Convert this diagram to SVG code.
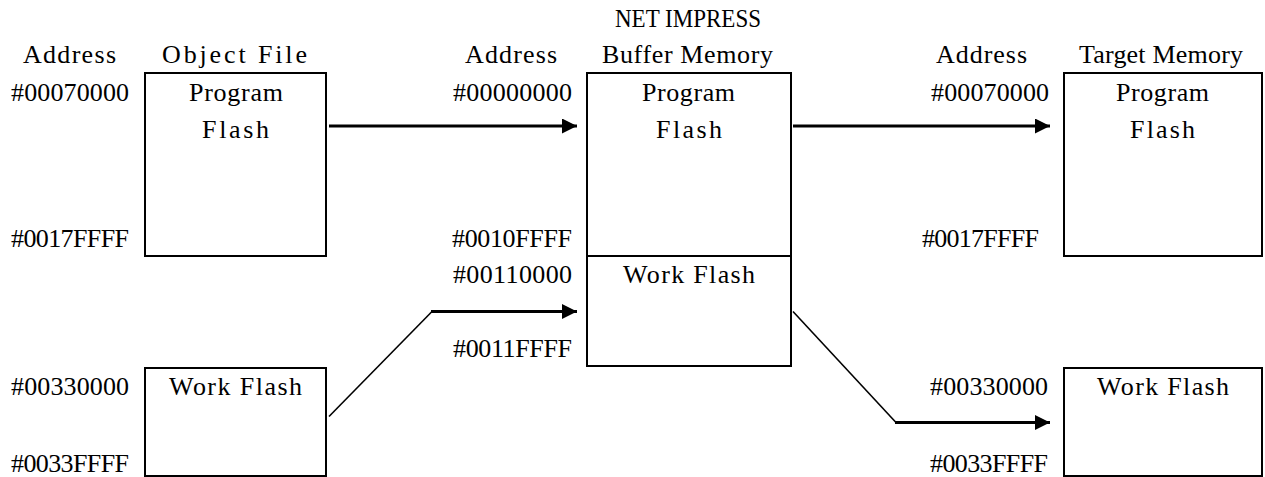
<svg xmlns="http://www.w3.org/2000/svg" width="1265" height="477" viewBox="0 0 1265 477">
<style>
  text { font-family: "Liberation Serif", "Noto Sans CJK JP", serif; font-size: 26px; fill: #000; }
  .box { fill: #fff; stroke: #000; stroke-width: 2; }
  .thick { fill: none; stroke: #000; stroke-width: 3; }
  .thin { fill: none; stroke: #000; stroke-width: 1.6; }
</style>
<defs>
  <marker id="arrow" markerUnits="userSpaceOnUse" markerWidth="15" markerHeight="15" viewBox="0 0 15 15" refX="15" refY="7.5" orient="auto">
    <path d="M0,0 L15,7.5 L0,15 Z" fill="#000"/>
  </marker>
</defs>
<rect width="1265" height="477" fill="#fff"/>

<g id="headers">
  <text x="615" y="27" textLength="146" lengthAdjust="spacingAndGlyphs">NET IMPRESS</text>
  <text x="23" y="63" textLength="93">Address</text>
  <text x="162" y="63" textLength="145">Object File</text>
  <text x="465" y="63" textLength="92">Address</text>
  <text x="602" y="63" textLength="171">Buffer Memory</text>
  <text x="936" y="63" textLength="91">Address</text>
  <text x="1079" y="63" textLength="164">Target Memory</text>
</g>

<g id="addresses">
  <text x="11" y="101" textLength="118">#00070000</text>
  <text x="11" y="247" textLength="118">#0017FFFF</text>
  <text x="11" y="395" textLength="118">#00330000</text>
  <text x="11" y="472" textLength="118">#0033FFFF</text>
  <text x="453" y="101" textLength="119">#00000000</text>
  <text x="452" y="247" textLength="120">#0010FFFF</text>
  <text x="453" y="283" textLength="119">#00110000</text>
  <text x="453" y="357" textLength="119">#0011FFFF</text>
  <text x="931" y="101" textLength="118">#00070000</text>
  <text x="922" y="247" textLength="117">#0017FFFF</text>
  <text x="930" y="395" textLength="118">#00330000</text>
  <text x="930" y="472" textLength="118">#0033FFFF</text>
</g>

<g id="obj-program">
  <rect class="box" x="145" y="73" width="181" height="183"/>
  <text x="189" y="101" textLength="94">Program</text>
  <text x="202" y="138" textLength="67">Flash</text>
</g>

<g id="obj-work">
  <rect class="box" x="145" y="368" width="181" height="108"/>
  <text x="169" y="395" textLength="133">Work Flash</text>
</g>

<g id="buffer-memory">
  <rect class="box" x="587" y="73" width="204" height="293"/>
  <line x1="587" y1="256" x2="791" y2="256" stroke="#000" stroke-width="2"/>
  <text x="642" y="101" textLength="93">Program</text>
  <text x="656" y="138" textLength="66">Flash</text>
  <text x="623" y="283" textLength="132">Work Flash</text>
</g>

<g id="target-program">
  <rect class="box" x="1064" y="73" width="198" height="183"/>
  <text x="1116" y="101" textLength="93">Program</text>
  <text x="1130" y="138" textLength="65">Flash</text>
</g>

<g id="target-work">
  <rect class="box" x="1064" y="368" width="198" height="108"/>
  <text x="1097" y="395" textLength="132">Work Flash</text>
</g>

<g id="connectors">
  <line class="thick" x1="329" y1="126" x2="577" y2="126" marker-end="url(#arrow)"/>
  <line class="thick" x1="793" y1="126" x2="1050" y2="126" marker-end="url(#arrow)"/>
  <path class="thin" d="M329,416.5 L432,311.5"/>
  <path class="thick" d="M431,311.5 H577" marker-end="url(#arrow)"/>
  <path class="thin" d="M793,311.5 L896,422.5"/>
  <path class="thick" d="M895,422.5 H1050" marker-end="url(#arrow)"/>
</g>
</svg>
